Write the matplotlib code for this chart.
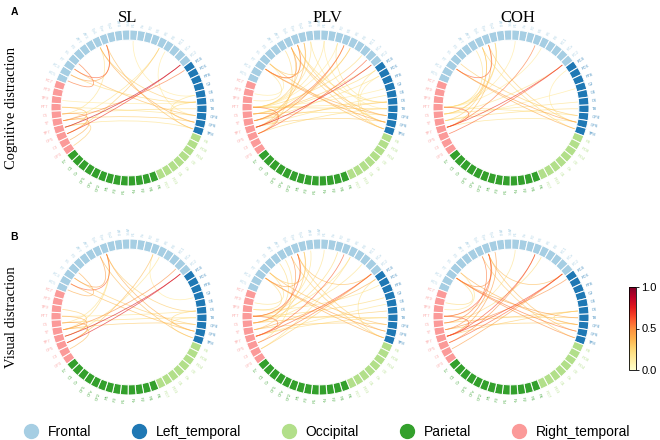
import numpy as np
import matplotlib
matplotlib.use("Agg")
import matplotlib.pyplot as plt
from matplotlib.patches import Wedge, PathPatch
from matplotlib.path import Path
from matplotlib.lines import Line2D
from matplotlib.cm import ScalarMappable
from matplotlib.colors import Normalize

# ---------------------------------------------------------------------------
# Channel groups (clockwise from the left side of the ring)
# ---------------------------------------------------------------------------
group_names = ["Frontal", "Left_temporal", "Occipital", "Parietal", "Right_temporal"]
group_colors = ["#a6cee3", "#1f78b4", "#b2df8a", "#33a02c", "#fb9a99"]

frontal = ["FC5", "FC3", "F7", "F5", "F3", "AF7", "AF3", "Fp1", "Fpz", "Fp2", "AF4",
           "AF8", "F1", "Fz", "F2", "F4", "F6", "F8", "FC1", "FCz", "FC2"]
left_temporal = ["FC4", "FC6", "FT8", "C2", "C4", "C6", "T8", "CP4", "CP6", "TP8"]
occipital = ["P8", "PO8", "PO4", "O2", "Oz", "O1", "PO3", "PO7"]
parietal = ["P6", "P4", "P2", "Pz", "P1", "P3", "P5", "CP2", "CPz", "CP1", "Cz", "C1", "P7"]
right_temporal = ["CP3", "C3", "CP5", "TP7", "T7", "C5", "FT7", "TP9", "FT9", "FC7"]

groups = [frontal, left_temporal, occipital, parietal, right_temporal]

col_titles = ["SL", "PLV", "COH"]
row_titles = ["Cognitive distraction", "Visual distraction"]
panel_letters = ["A", "B"]

# edges per panel: (node_i, node_j, weight)
sl_cog = [(55, 20, 0.85), (54, 20, 0.7), (56, 21, 0.55), (7, 29, 0.4), (8, 30, 0.35),
          (7, 26, 0.3), (2, 28, 0.35), (1, 26, 0.25), (16, 54, 0.3), (16, 56, 0.2),
          (2, 8, 0.6), (1, 8, 0.45), (0, 3, 0.55), (57, 27, 0.25), (58, 28, 0.2),
          (56, 29, 0.3), (55, 30, 0.2), (54, 57, 0.45), (55, 58, 0.35), (53, 56, 0.4),
          (52, 55, 0.3), (26, 29, 0.25), (25, 30, 0.2), (17, 28, 0.15), (57, 7, 0.2),
          (59, 26, 0.15), (12, 25, 0.15)]
plv_cog = [(2, 29, 0.45), (2, 28, 0.4), (3, 30, 0.35), (8, 29, 0.3), (7, 28, 0.35),
           (8, 26, 0.25), (7, 30, 0.3), (15, 55, 0.5), (20, 55, 0.75), (19, 54, 0.6),
           (16, 56, 0.3), (21, 57, 0.25), (2, 8, 0.55), (2, 7, 0.45), (3, 9, 0.3),
           (58, 54, 0.55), (57, 55, 0.45), (58, 8, 0.3), (58, 10, 0.2), (58, 12, 0.2),
           (58, 14, 0.15), (57, 16, 0.2), (58, 18, 0.25), (57, 20, 0.3), (58, 24, 0.15),
           (58, 26, 0.2), (58, 27, 0.25), (57, 28, 0.2), (56, 26, 0.3), (55, 25, 0.2),
           (55, 29, 0.3), (54, 27, 0.25), (56, 22, 0.2), (56, 9, 0.35), (55, 7, 0.3),
           (54, 6, 0.25), (59, 2, 0.2), (60, 3, 0.15), (21, 30, 0.2), (22, 29, 0.15),
           (12, 27, 0.15), (14, 26, 0.2), (10, 29, 0.2), (56, 15, 0.55)]
coh_cog = [(58, 55, 0.6), (2, 8, 0.6), (2, 29, 0.45), (2, 30, 0.4), (3, 28, 0.3),
           (8, 29, 0.3), (7, 30, 0.25), (8, 55, 0.35), (7, 56, 0.3), (9, 57, 0.25),
           (15, 55, 0.55), (20, 55, 0.7), (20, 54, 0.6), (21, 29, 0.15), (57, 26, 0.2),
           (58, 28, 0.2), (56, 27, 0.25), (55, 29, 0.2), (58, 12, 0.15), (58, 16, 0.15),
           (57, 20, 0.2), (58, 6, 0.2), (58, 9, 0.25), (57, 7, 0.3), (56, 24, 0.15)]
sl_vis = [(55, 20, 0.8), (54, 20, 0.75), (56, 19, 0.5), (1, 8, 0.6), (2, 7, 0.45),
          (8, 29, 0.4), (7, 30, 0.35), (8, 26, 0.3), (1, 29, 0.35), (2, 28, 0.3),
          (15, 54, 0.35), (15, 24, 0.15), (26, 29, 0.25), (27, 30, 0.2), (54, 57, 0.45),
          (55, 58, 0.4), (56, 59, 0.3), (53, 56, 0.35), (57, 27, 0.25), (58, 26, 0.2),
          (56, 28, 0.3), (8, 56, 0.25), (57, 8, 0.2), (0, 3, 0.4), (16, 55, 0.2)]
plv_vis = [(8, 58, 0.6), (7, 57, 0.5), (58, 55, 0.55), (2, 29, 0.45), (2, 30, 0.4),
           (3, 28, 0.35), (8, 29, 0.3), (7, 30, 0.3), (15, 55, 0.6), (20, 55, 0.6),
           (20, 54, 0.55), (21, 56, 0.4), (8, 20, 0.35), (58, 10, 0.2), (58, 12, 0.2),
           (57, 14, 0.25), (58, 16, 0.2), (57, 18, 0.2), (58, 24, 0.25), (57, 26, 0.3),
           (58, 27, 0.25), (56, 28, 0.3), (55, 27, 0.25), (55, 25, 0.2), (59, 22, 0.2),
           (56, 9, 0.3), (57, 5, 0.25), (60, 3, 0.2), (59, 2, 0.25), (54, 6, 0.2),
           (21, 30, 0.2), (53, 20, 0.3), (53, 16, 0.2), (2, 8, 0.45), (3, 9, 0.3)]
coh_vis = [(2, 29, 0.55), (2, 30, 0.5), (3, 28, 0.4), (2, 27, 0.45), (8, 58, 0.6),
           (7, 57, 0.55), (8, 56, 0.5), (9, 55, 0.45), (15, 55, 0.65), (15, 54, 0.5),
           (20, 55, 0.65), (20, 54, 0.6), (21, 56, 0.5), (20, 53, 0.45), (8, 20, 0.35),
           (8, 29, 0.35), (7, 30, 0.3), (58, 55, 0.6), (57, 26, 0.3), (58, 27, 0.25),
           (55, 26, 0.3), (56, 28, 0.3), (26, 28, 0.25), (58, 12, 0.2), (57, 16, 0.25),
           (59, 3, 0.2), (60, 2, 0.25), (2, 8, 0.5)]

panels = [[sl_cog, plv_cog, coh_cog], [sl_vis, plv_vis, coh_vis]]

# ---------------------------------------------------------------------------
plt.rcParams.update({"font.family": ["Liberation Sans", "DejaVu Sans"]})
cmap = plt.get_cmap("YlOrRd")
norm = Normalize(0, 1)

labels, colors = [], []
for g, c in zip(groups, group_colors):
    labels += g
    colors += [c] * len(g)
n_nodes = len(labels)
step = 360.0 / n_nodes
start = 159.0
angles = np.array([start - (k + 0.5) * step for k in range(n_nodes)])

R_OUT, RING_W, R_IN = 1.0, 0.13, 0.86
LIM = 1.25
PX = 78.0  # pixels per data unit
W, H = 660, 440
centers_x = [129, 320, 511]
centers_y = [108, 317]
title_x = [128, 327, 518]


def draw_circle(ax, edges):
    for k in range(n_nodes):
        ax.add_patch(Wedge((0, 0), R_OUT, angles[k] - step / 2, angles[k] + step / 2,
                           width=RING_W, fc=colors[k], ec="white", lw=0.7, zorder=3))
        a = angles[k] % 360
        rad = np.deg2rad(a)
        if a < 90 or a > 270:
            rot, ha = a, "left"
        else:
            rot, ha = a + 180, "right"
        ax.text(1.04 * np.cos(rad), 1.04 * np.sin(rad), labels[k], rotation=rot,
                rotation_mode="anchor", ha=ha, va="center", fontsize=3.0,
                color=colors[k], alpha=0.85)
    for i, j, w in sorted(edges, key=lambda e: e[2]):
        t0, t1 = np.deg2rad(angles[i]), np.deg2rad(angles[j])
        p0 = (R_IN * np.cos(t0), R_IN * np.sin(t0))
        p1 = (R_IN * np.cos(t1), R_IN * np.sin(t1))
        c0 = (0.45 * np.cos(t0), 0.45 * np.sin(t0))
        c1 = (0.45 * np.cos(t1), 0.45 * np.sin(t1))
        path = Path([p0, c0, c1, p1], [Path.MOVETO, Path.CURVE4, Path.CURVE4, Path.CURVE4])
        ax.add_patch(PathPatch(path, fc="none", ec=cmap(norm(w)), lw=0.55, alpha=0.65,
                               zorder=2))


fig = plt.figure(figsize=(6.6, 4.4), dpi=100)
half = LIM * PX
for r in range(2):
    for c in range(3):
        cx, cy = centers_x[c], centers_y[r]
        ax = fig.add_axes([(cx - half) / W, (H - cy - half) / H, 2 * half / W, 2 * half / H])
        ax.set_xlim(-LIM, LIM)
        ax.set_ylim(-LIM, LIM)
        ax.set_aspect("equal")
        ax.axis("off")
        draw_circle(ax, panels[r][c])

serif = ["Liberation Serif", "DejaVu Serif"]
for c, t in enumerate(col_titles):
    fig.text(title_x[c] / W, 1 - 18 / H, t, ha="center", va="center",
             fontsize=12, family=serif)
for r, t in enumerate(row_titles):
    fig.text(12 / W, 1 - centers_y[r] / H, t, rotation=90, ha="center", va="center",
             fontsize=10.5, family=serif)
    fig.text(14 / W, 1 - (12 + r * 225) / H, panel_letters[r], ha="center", va="center",
             fontsize=7.5, fontweight="bold")

cax = fig.add_axes([629 / W, 70 / H, 7 / W, 83 / H])
cb = fig.colorbar(ScalarMappable(norm=norm, cmap=cmap), cax=cax, ticks=[0, 0.5, 1])
cb.ax.set_yticklabels(["0.0", "0.5", "1.0"], fontsize=8)
cb.ax.tick_params(length=2.5, width=0.6, pad=1.5)
cb.outline.set_linewidth(0.6)

handles = [Line2D([], [], ls="none", marker="o", ms=10, mfc=c, mec=c) for c in group_colors]
fig.legend(handles, group_names, loc="lower center", bbox_to_anchor=(0.49, -0.025), ncol=5,
           frameon=False, fontsize=10, handletextpad=0.2, columnspacing=2.45)

fig.savefig("out.png", dpi=100, facecolor="white")
